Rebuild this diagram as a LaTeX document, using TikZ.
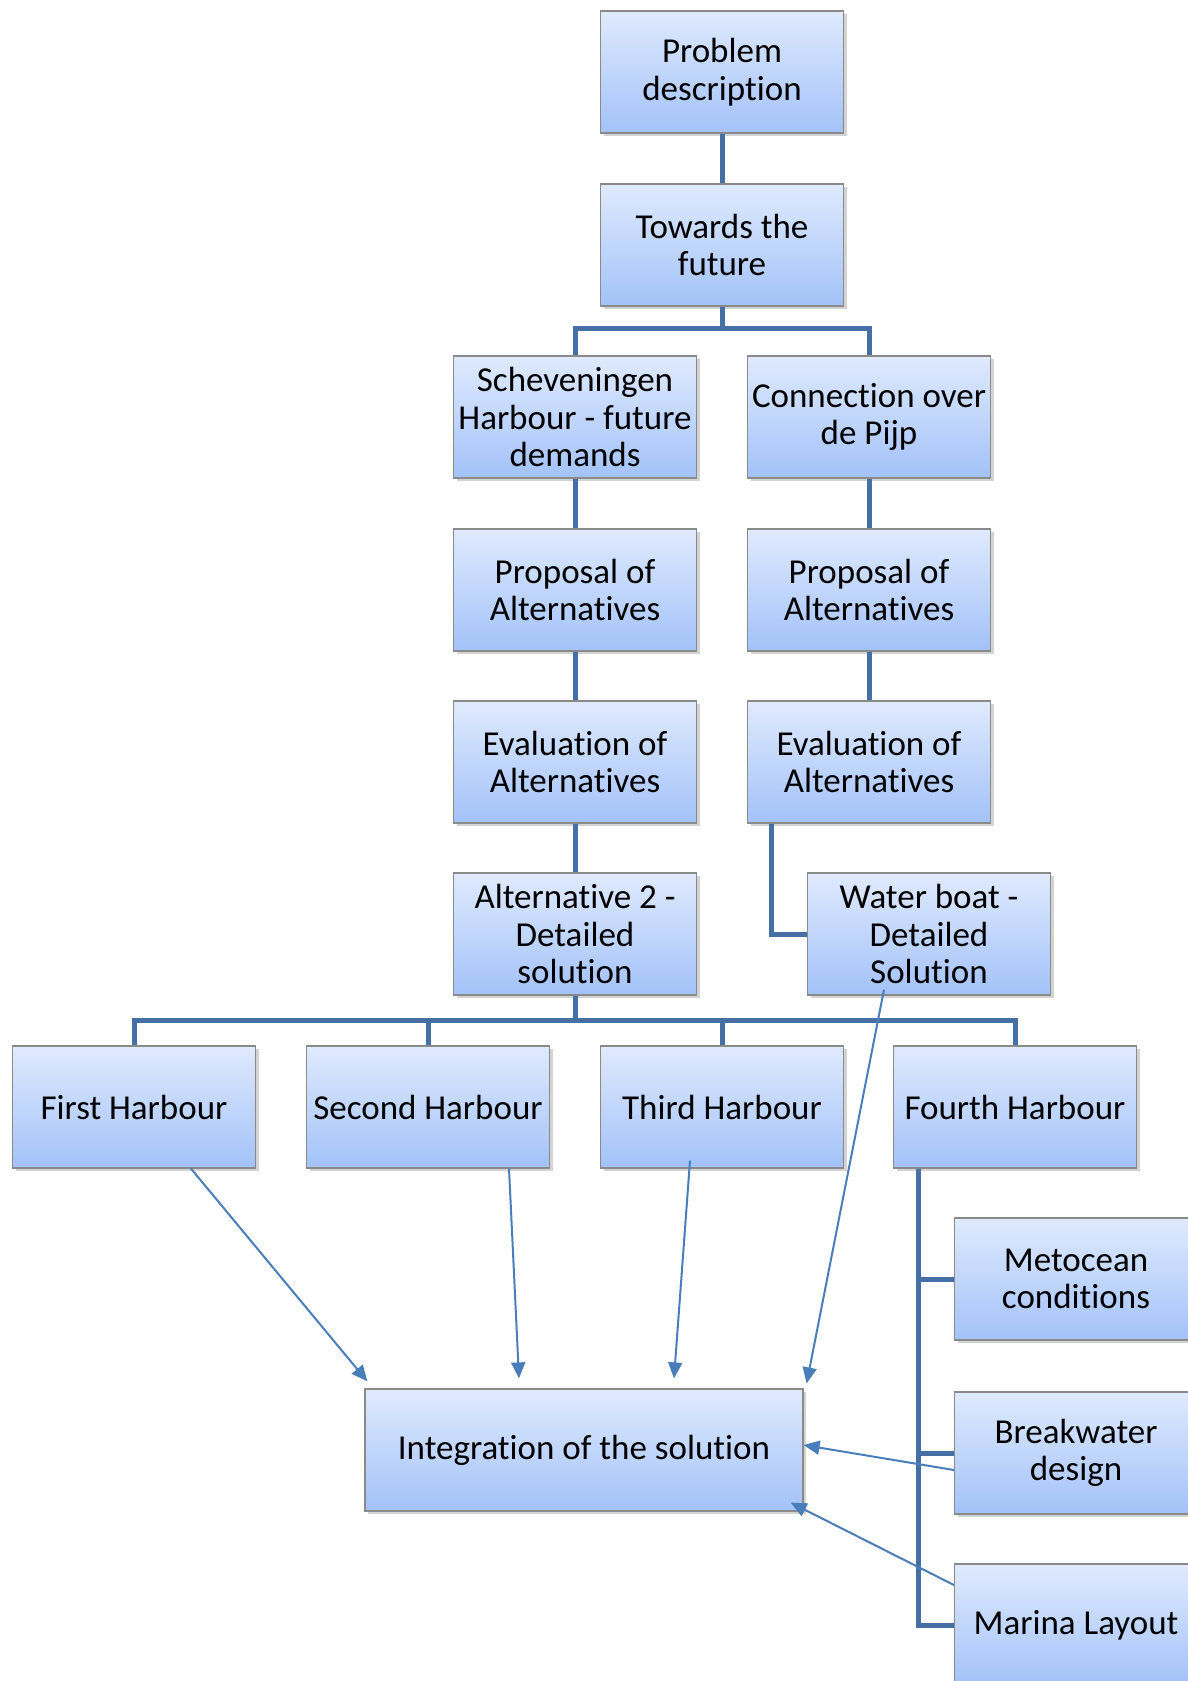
\documentclass[tikz,border=0pt]{standalone}
\usepackage{fontspec}
\setmainfont{Carlito}[Ligatures=NoCommon]
\usepackage{tikz}
\usetikzlibrary{arrows.meta,shadows}
\definecolor{linkblue}{HTML}{466FA6}
\definecolor{arrowblue}{HTML}{4A7EBB}
\definecolor{boxtop}{HTML}{DFEAFD}
\definecolor{boxbottom}{HTML}{A3C2F9}
\definecolor{boxline}{HTML}{8A8A8A}

\begin{document}
\begin{tikzpicture}[x=1pt,y=-1pt,
    stage/.style={draw=boxline,line width=1.2pt,top color=boxtop,bottom color=boxbottom,
      minimum width=243pt,minimum height=122pt,align=center,inner sep=2pt,
      font=\fontsize{35}{37.5}\selectfont,
      drop shadow={shadow xshift=3pt,shadow yshift=-3pt,opacity=0.35,fill=gray}},
    link/.style={draw=linkblue,line width=5pt},
    feed/.style={draw=arrowblue,line width=2pt,-{Triangle[length=16pt,width=14pt]}}]
  \useasboundingbox (0,0) rectangle (1187,1681);

  \node[stage] (prob) at (722,72) {Problem\\description};
  \node[stage] (future) at (722,245) {Towards the\\future};
  \node[stage] (schev) at (575,417) {Scheveningen\\Harbour - future\\demands};
  \node[stage] (conn) at (869,417) {Connection over\\de Pijp};
  \node[stage] (propA) at (575,590) {Proposal of\\Alternatives};
  \node[stage] (propB) at (869,590) {Proposal of\\Alternatives};
  \node[stage] (evalA) at (575,762) {Evaluation of\\Alternatives};
  \node[stage] (evalB) at (869,762) {Evaluation of\\Alternatives};
  \node[stage] (alt) at (575,934) {Alternative 2 -\\Detailed\\solution};
  \node[stage] (water) at (929,934) {Water boat -\\Detailed\\Solution};
  \node[stage] (first) at (134,1107) {First Harbour};
  \node[stage] (second) at (428,1107) {Second Harbour};
  \node[stage] (third) at (722,1107) {Third Harbour};
  \node[stage] (fourth) at (1015,1107) {Fourth Harbour};
  \node[stage] (meto) at (1076,1279) {Metocean\\conditions};
  \node[stage] (break) at (1076,1453) {Breakwater\\design};
  \node[stage] (marina) at (1076,1625) {Marina Layout};
  \node[stage,minimum width=438pt] (integ) at (584,1450) {Integration of the solution};

  \draw[link] (prob.south) -- (future.north);
  \draw[link] (future.south) -- ++(0,22) -| (schev.north);
  \draw[link] (future.south) -- ++(0,22) -| (conn.north);
  \draw[link] (schev) -- (propA) -- (evalA) -- (alt);
  \draw[link] (conn) -- (propB) -- (evalB);
  \draw[link] ([xshift=-98pt]evalB.south) |- (water.west);
  \draw[link] (alt.south) -- ++(0,25) -| (first.north);
  \draw[link] (alt.south) -- ++(0,25) -| (second.north);
  \draw[link] (alt.south) -- ++(0,25) -| (third.north);
  \draw[link] (alt.south) -- ++(0,25) -| (fourth.north);
  \draw[link] ([xshift=-97pt]fourth.south) |- (meto.west);
  \draw[link] ([xshift=-97pt]fourth.south) |- (break.west);
  \draw[link] ([xshift=-97pt]fourth.south) |- (marina.west);

  \draw[feed] ([xshift=57pt]first.south) -- ([xshift=3pt,yshift=7pt]integ.north west);
  \draw[feed] ([xshift=81pt]second.south) -- ([xshift=-65pt,yshift=10pt]integ.north);
  \draw[feed] ([xshift=-32pt,yshift=8pt]third.south) -- ([xshift=90pt,yshift=10pt]integ.north);
  \draw[feed] ([xshift=-45pt,yshift=6pt]water.south) -- ([xshift=3pt,yshift=5pt]integ.north east);
  \draw[feed] ([yshift=-17pt]break.west) -- ([yshift=5pt]integ.east);
  \draw[feed] ([yshift=40pt]marina.west) -- ([xshift=-13pt,yshift=9pt]integ.south east);
\end{tikzpicture}
\end{document}
